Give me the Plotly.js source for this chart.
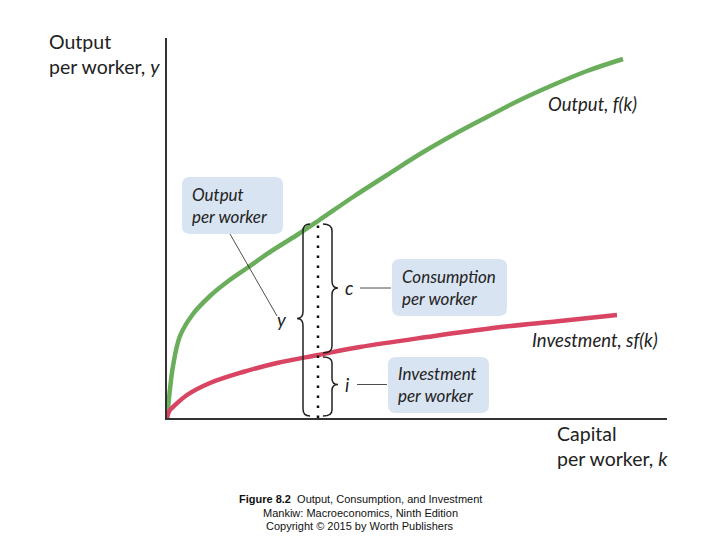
<!DOCTYPE html>
<html>
<head>
<meta charset="utf-8">
<script src="https://cdn.plot.ly/plotly-3.0.1.min.js"></script>
<style>html,body{margin:0;padding:0;background:#fff;}#chart{width:720px;height:540px;}</style>
</head>
<body>
<div id="chart"></div>
<script>
// Capital per worker (arbitrary units)
const capital = [0, 1, 3, 6, 13, 26, 43, 60, 80, 103, 130, 151, 186, 220, 253, 286, 320, 353, 386, 420, 456];
// Output per worker, f(k)
const output = [0, 10, 29, 52, 82, 104, 122, 136, 150, 166, 183, 197, 221, 243, 264, 283, 301, 318, 333, 347, 359];
// Investment per worker, sf(k)
const invK = [0, 1, 3, 6, 20, 43, 76, 110, 151, 193, 260, 326, 393, 450];
const investment = [0, 4, 8, 11, 23, 35, 46, 55, 63, 71, 81, 90, 97, 103];
// The capital level that is examined
const kStarIndex = 11;

const kStar = capital[kStarIndex];
const yStar = output[kStarIndex];
const iStar = investment[invK.indexOf(kStar)];

const green = '#6aae5c', red = '#d84462', boxFill = '#d9e4f2', ink = '#222';
const labelFont = {family: 'Lato, "Open Sans", sans-serif', size: 19.5, color: ink};
const italFont = {family: 'Lato, "Open Sans", sans-serif', size: 17, color: ink, style: 'italic'};
const curveFont = {family: 'Lato, "Open Sans", sans-serif', size: 18.5, color: ink, style: 'italic'};
const capFont = {family: '"Liberation Sans", Arial, sans-serif', size: 11, color: '#111'};

const traces = [
  {x: capital, y: output, mode: 'lines', line: {color: green, width: 4.5, shape: 'spline', smoothing: 1}, hoverinfo: 'skip'},
  {x: invK, y: investment, mode: 'lines', line: {color: red, width: 4.5, shape: 'spline', smoothing: 1}, hoverinfo: 'skip'},
  {x: [kStar, kStar], y: [0, yStar], mode: 'lines', line: {color: '#111', width: 2.5, dash: '2.5px,7.5px'}, hoverinfo: 'skip'}
];

function brace(xe, xb, xt, yb, yt, ym, r) {
  return `M${xe},${yt} Q${xb},${yt} ${xb},${yt - r} L${xb},${ym + r} Q${xb},${ym} ${xt},${ym} ` +
         `Q${xb},${ym} ${xb},${ym - r} L${xb},${yb + r} Q${xb},${yb} ${xe},${yb}`;
}
function rrect(x0, y0, x1, y1, r) {
  return `M${x0 + r},${y0} L${x1 - r},${y0} Q${x1},${y0} ${x1},${y0 + r} L${x1},${y1 - r} Q${x1},${y1} ${x1 - r},${y1} ` +
         `L${x0 + r},${y1} Q${x0},${y1} ${x0},${y1 - r} L${x0},${y0 + r} Q${x0},${y0} ${x0 + r},${y0} Z`;
}

const yMid = yStar / 2;
const cMid = (yStar + iStar) / 2;
const iMid = iStar / 2 + 2;

const shapes = [
  // boxes
  {type: 'path', xref: 'x', yref: 'y', path: rrect(15, 184, 116, 241, 8), fillcolor: boxFill, line: {width: 0}, layer: 'below'},
  {type: 'path', xref: 'x', yref: 'y', path: rrect(225, 102, 340, 159, 8), fillcolor: boxFill, line: {width: 0}, layer: 'below'},
  {type: 'path', xref: 'x', yref: 'y', path: rrect(221, 5, 322, 61, 8), fillcolor: boxFill, line: {width: 0}, layer: 'below'},
  // braces
  {type: 'path', xref: 'x', yref: 'y', path: brace(kStar - 8, kStar - 15, kStar - 21, 2, yStar - 3, yMid + 1, 7), line: {color: ink, width: 1.5}},
  {type: 'path', xref: 'x', yref: 'y', path: brace(kStar + 5, kStar + 14, kStar + 20, iStar + 2, yStar - 3, cMid, 7), line: {color: ink, width: 1.5}},
  {type: 'path', xref: 'x', yref: 'y', path: brace(kStar + 5, kStar + 14, kStar + 20, 2, iStar - 2, iMid, 6), line: {color: ink, width: 1.5}},
  // connector lines
  {type: 'line', xref: 'x', yref: 'y', x0: 63, y0: 184, x1: 110, y1: 102, line: {color: ink, width: 0.8}},
  {type: 'line', xref: 'x', yref: 'y', x0: 193, y0: cMid, x1: 224, y1: cMid, line: {color: ink, width: 0.8}},
  {type: 'line', xref: 'x', yref: 'y', x0: 190, y0: iMid, x1: 220, y1: iMid, line: {color: ink, width: 0.8}}
];

const annotations = [
  {xref: 'paper', yref: 'paper', x: -0.24, y: 0.958, xanchor: 'left', yanchor: 'middle', align: 'left', showarrow: false,
   text: 'Output<br>per worker, <i>y</i>', font: labelFont},
  {xref: 'paper', yref: 'paper', x: 0.776, y: -0.0737, xanchor: 'left', yanchor: 'middle', align: 'left', showarrow: false,
   text: 'Capital<br>per worker, <i>k</i>', font: labelFont},
  {xref: 'x', yref: 'y', x: 379, y: 314, xanchor: 'left', yanchor: 'middle', align: 'left', showarrow: false,
   text: 'Output, f(k)', font: curveFont},
  {xref: 'x', yref: 'y', x: 363, y: 78, xanchor: 'left', yanchor: 'middle', align: 'left', showarrow: false,
   text: 'Investment, sf(k)', font: curveFont},
  {xref: 'x', yref: 'y', x: 23, y: 213, xanchor: 'left', yanchor: 'middle', align: 'left', showarrow: false,
   text: 'Output<br>per worker', font: italFont},
  {xref: 'x', yref: 'y', x: 233, y: 131, xanchor: 'left', yanchor: 'middle', align: 'left', showarrow: false,
   text: 'Consumption<br>per worker', font: italFont},
  {xref: 'x', yref: 'y', x: 229, y: 34, xanchor: 'left', yanchor: 'middle', align: 'left', showarrow: false,
   text: 'Investment<br>per worker', font: italFont},
  {xref: 'x', yref: 'y', x: 115, y: 98, xanchor: 'center', yanchor: 'middle', showarrow: false, text: 'y', font: curveFont},
  {xref: 'x', yref: 'y', x: 182, y: cMid, xanchor: 'center', yanchor: 'middle', showarrow: false, text: 'c', font: curveFont},
  {xref: 'x', yref: 'y', x: 180, y: iMid, xanchor: 'center', yanchor: 'middle', showarrow: false, text: 'i', font: curveFont},
  {xref: 'paper', yref: 'paper', x: 0.386, y: -0.213, xanchor: 'center', yanchor: 'middle', showarrow: false,
   text: '<b>Figure 8.2</b>  Output, Consumption, and Investment', font: capFont},
  {xref: 'paper', yref: 'paper', x: 0.386, y: -0.25, xanchor: 'center', yanchor: 'middle', showarrow: false,
   text: 'Mankiw: Macroeconomics, Ninth Edition', font: capFont},
  {xref: 'paper', yref: 'paper', x: 0.386, y: -0.284, xanchor: 'center', yanchor: 'middle', showarrow: false,
   text: 'Copyright © 2015 by Worth Publishers', font: capFont}
];

const layout = {
  width: 720, height: 540,
  margin: {l: 167, r: 53, t: 38, b: 122, pad: 0},
  paper_bgcolor: '#fff', plot_bgcolor: '#fff',
  showlegend: false,
  xaxis: {range: [0, 500], showgrid: false, zeroline: false, showticklabels: false, ticks: '',
          showline: true, linecolor: '#333', linewidth: 2, fixedrange: true},
  yaxis: {range: [0, 380], showgrid: false, zeroline: false, showticklabels: false, ticks: '',
          showline: true, linecolor: '#333', linewidth: 2, fixedrange: true},
  shapes: shapes,
  annotations: annotations
};

Plotly.newPlot('chart', traces, layout, {displayModeBar: false, staticPlot: true});
</script>
</body>
</html>
